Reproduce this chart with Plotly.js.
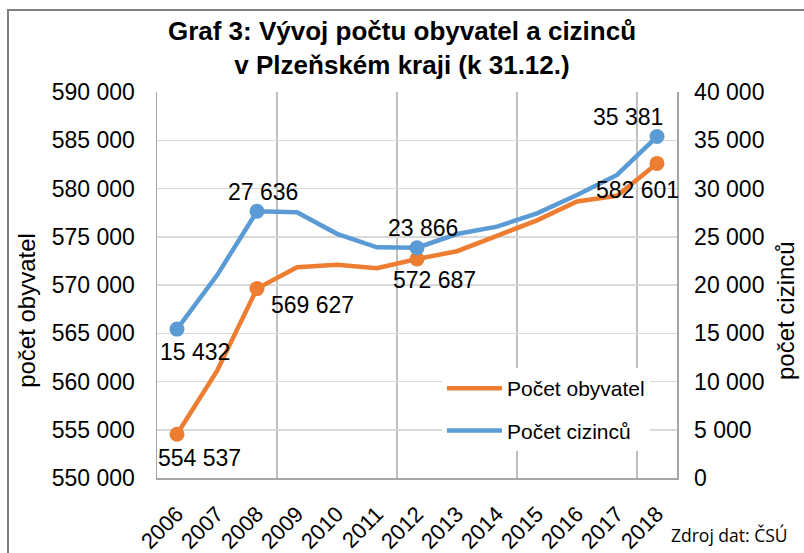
<!DOCTYPE html>
<html>
<head>
<meta charset="utf-8">
<script src="https://cdn.plot.ly/plotly-3.0.1.min.js"></script>
<style>
  html, body { margin: 0; padding: 0; background: #ffffff; overflow: hidden; }
  #chart { width: 804px; height: 553px; position: absolute; left: 0; top: 0; }
  #frame { position: absolute; left: 7px; top: 9px; width: 900px; height: 700px;
           border-left: 2px solid #808080; border-top: 2px solid #808080; pointer-events: none; }
</style>
</head>
<body>
<div id="chart"></div>
<div id="frame"></div>
<script>
// ---- data ----
const years = [2006, 2007, 2008, 2009, 2010, 2011, 2012, 2013, 2014, 2015, 2016, 2017, 2018];
const yearLabels = ["2006","2007","2008","2009","2010","2011","2012","2013","2014","2015","2016","2017","2018"];
const obyvatel = [554537, 561100, 569627, 571850, 572100, 571730, 572687, 573500, 575100, 576700, 578650, 579250, 582601];
const cizincu  = [15432, 21000, 27636, 27530, 25300, 23900, 23866, 25280, 26050, 27430, 29330, 31400, 35381];
const leftTicks = [550000, 555000, 560000, 565000, 570000, 575000, 580000, 585000, 590000];
const rightTicks = [0, 5000, 10000, 15000, 20000, 25000, 30000, 35000, 40000];
const labeledIdx = [0, 2, 6, 12];
const seriesNames = ["Počet obyvatel", "Počet cizinců"];
const titleLines = ["Graf 3: Vývoj počtu obyvatel a cizinců", "v Plzeňském kraji (k 31.12.)"];
const leftTitle = "počet obyvatel";
const rightTitle = "počet cizinců";
const sourceNote = "Zdroj dat: ČSÚ";

// ---- styling (label offsets in px relative to the point: [dx, dy], dy downward) ----
const orangeOffsets = {0: [22, 24], 2: [55, 16], 6: [17, 21], 12: [-20, 27]};
const blueOffsets   = {0: [18, 23], 2: [6, -19], 6: [6, -20], 12: [-29, -20]};
const ORANGE = "#ED7D31", BLUE = "#5B9BD5";
const FONT = "Liberation Sans, Arial, sans-serif";

function fmt(v) { return String(v).replace(/\B(?=(\d{3})+(?!\d))/g, " "); }
function pick(arr) { return labeledIdx.map(i => arr[i]); }

const traces = [
  { x: years, y: obyvatel, name: seriesNames[0], type: "scatter", mode: "lines",
    line: {color: ORANGE, width: 4.5}, yaxis: "y", legendgroup: "a", hoverinfo: "skip" },
  { x: years, y: cizincu, name: seriesNames[1], type: "scatter", mode: "lines",
    line: {color: BLUE, width: 4.5}, yaxis: "y2", legendgroup: "b", hoverinfo: "skip" },
  { x: pick(years), y: pick(obyvatel), type: "scatter", mode: "markers", showlegend: false,
    marker: {color: ORANGE, size: 15, opacity: 1, line: {width: 0}}, yaxis: "y", hoverinfo: "skip" },
  { x: pick(years), y: pick(cizincu), type: "scatter", mode: "markers", showlegend: false,
    marker: {color: BLUE, size: 15, opacity: 1, line: {width: 0}}, yaxis: "y2", hoverinfo: "skip" }
];

const annotations = [];
labeledIdx.forEach(i => {
  const o = orangeOffsets[i];
  annotations.push({ x: years[i], y: obyvatel[i], xref: "x", yref: "y", text: fmt(obyvatel[i]),
    showarrow: false, xanchor: "center", yanchor: "middle", xshift: o[0], yshift: -o[1],
    font: {family: FONT, size: 23, color: "#000"} });
  const b = blueOffsets[i];
  annotations.push({ x: years[i], y: cizincu[i], xref: "x", yref: "y2", text: fmt(cizincu[i]),
    showarrow: false, xanchor: "center", yanchor: "middle", xshift: b[0], yshift: -b[1],
    font: {family: FONT, size: 23, color: "#000"} });
});
annotations.push({ x: -0.25, y: 0.433, xref: "paper", yref: "paper", text: leftTitle, textangle: -90,
  showarrow: false, xanchor: "center", yanchor: "middle", font: {family: FONT, size: 24, color: "#000"} });
annotations.push({ x: 1.21, y: 0.433, xref: "paper", yref: "paper", text: rightTitle, textangle: -90,
  showarrow: false, xanchor: "center", yanchor: "middle", font: {family: FONT, size: 24, color: "#000"} });
annotations.push({ x: 1.1, y: -0.148, xref: "paper", yref: "paper", text: sourceNote,
  showarrow: false, xanchor: "center", yanchor: "middle", font: {family: "Open Sans, Liberation Sans, sans-serif", size: 17.5, color: "#000"} });

const layout = {
  width: 804, height: 553,
  margin: {l: 157, r: 127, t: 92, b: 75, pad: 0},
  paper_bgcolor: "#ffffff", plot_bgcolor: "#ffffff",
  separators: ", ",
  font: {family: FONT, color: "#000"},
  title: { text: titleLines.join("<br>"), x: 0.5, xref: "container", xanchor: "center",
           y: 0.928, yref: "container", yanchor: "top",
           font: {family: FONT, size: 26, color: "#000", weight: "bold"} },
  xaxis: {
    range: [2005.5, 2018.5], tickmode: "array", tickvals: years, ticktext: yearLabels,
    tickangle: -45, tickfont: {family: FONT, size: 22, color: "#000"},
    showgrid: false, zeroline: false, showline: true, linecolor: "#a6a6a6", linewidth: 1.5,
    ticks: "", ticklabelstandoff: 13,
    minor: {tickmode: "linear", tick0: 2005.5, dtick: 3, showgrid: true, gridcolor: "#c0c0c0", gridwidth: 1.5, ticks: ""},
    fixedrange: true
  },
  yaxis: {
    range: [550000, 590000], tickmode: "array", tickvals: leftTicks, tickformat: ",d",
    tickfont: {family: FONT, size: 23, color: "#000"},
    showgrid: true, gridcolor: "#d9d9d9", gridwidth: 1.5, zeroline: false,
    showline: true, linecolor: "#a6a6a6", linewidth: 1.5, ticks: "", ticklabelstandoff: 16,
    fixedrange: true
  },
  yaxis2: {
    range: [0, 40000], tickmode: "array", tickvals: rightTicks, tickformat: ",d",
    overlaying: "y", side: "right",
    tickfont: {family: FONT, size: 23, color: "#000"},
    showgrid: false, zeroline: false,
    showline: true, linecolor: "#a6a6a6", linewidth: 1.5, ticks: "", ticklabelstandoff: 11,
    fixedrange: true
  },
  legend: {
    x: 0.548, y: 0.285, xanchor: "left", yanchor: "top",
    bgcolor: "#ffffff", borderwidth: 0, font: {family: FONT, size: 21, color: "#000"},
    traceorder: "grouped", tracegroupgap: 12, itemwidth: 55
  },
  annotations: annotations,
  showlegend: true
};

Plotly.newPlot("chart", traces, layout, {displayModeBar: false, staticPlot: true});
</script>
</body>
</html>
